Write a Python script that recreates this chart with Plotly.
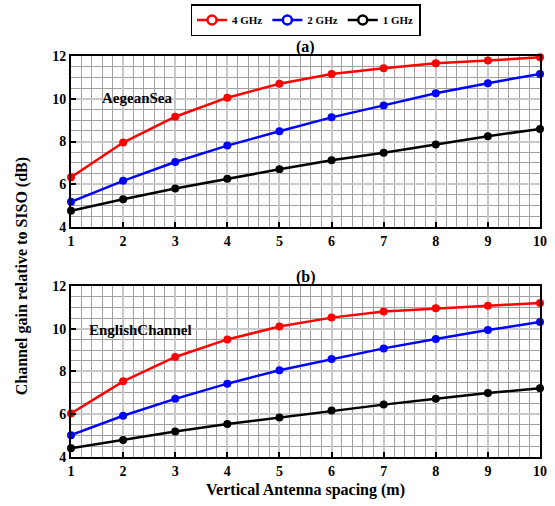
import plotly.graph_objects as go
from plotly.subplots import make_subplots

spacing = [1, 2, 3, 4, 5, 6, 7, 8, 9, 10]
series_names = ["4 GHz", "2 GHz", "1 GHz"]
colors = ["#ff0000", "#0000ff", "#000000"]

aegean_4ghz = [6.33, 7.95, 9.16, 10.05, 10.70, 11.16, 11.43, 11.66, 11.79, 11.94]
aegean_2ghz = [5.18, 6.16, 7.04, 7.81, 8.48, 9.13, 9.69, 10.26, 10.73, 11.16]
aegean_1ghz = [4.76, 5.30, 5.80, 6.26, 6.70, 7.12, 7.47, 7.86, 8.25, 8.59]

english_4ghz = [6.04, 7.54, 8.68, 9.50, 10.10, 10.52, 10.81, 10.96, 11.08, 11.20]
english_2ghz = [5.02, 5.93, 6.72, 7.43, 8.06, 8.58, 9.08, 9.52, 9.94, 10.31]
english_1ghz = [4.41, 4.80, 5.19, 5.54, 5.85, 6.17, 6.45, 6.72, 6.99, 7.22]

panels = [
    ("(a)", "AegeanSea", [aegean_4ghz, aegean_2ghz, aegean_1ghz]),
    ("(b)", "EnglishChannel", [english_4ghz, english_2ghz, english_1ghz]),
]

FONT = "Liberation Serif"

fig = make_subplots(rows=2, cols=1, vertical_spacing=0.147)

for r, (tag, label, data) in enumerate(panels, start=1):
    for name, col, vals in zip(series_names, colors, data):
        fig.add_trace(go.Scatter(
            x=spacing, y=vals, mode="lines+markers", name=name,
            line=dict(color=col, width=2.5),
            marker=dict(color=col, size=8),
            showlegend=False, cliponaxis=False,
        ), row=r, col=1)

# legend entries with open circles
for name, col in zip(series_names, colors):
    fig.add_trace(go.Scatter(
        x=[None], y=[None], mode="lines+markers", name=name,
        line=dict(color=col, width=2.5),
        marker=dict(color="white", size=9, symbol="circle", line=dict(color=col, width=2.5)),
        showlegend=True,
    ), row=1, col=1)

axis_common = dict(
    showline=True, linecolor="black", linewidth=2, mirror=True,
    ticks="inside", ticklen=5, tickwidth=1.5, tickcolor="black",
    showgrid=True, gridcolor="#c8c8c8", gridwidth=2,
    zeroline=False,
    tickfont=dict(family=FONT, size=14, color="black", weight="bold"),
)

for r in (1, 2):
    fig.update_xaxes(range=[1, 10], tickmode="linear", tick0=1, dtick=1,
                     minor=dict(dtick=0.2, showgrid=True, gridcolor="#a0a0a0", gridwidth=1),
                     **axis_common, row=r, col=1)
    fig.update_yaxes(range=[4, 12], tickmode="linear", tick0=4, dtick=2,
                     minor=dict(dtick=0.5, showgrid=True, gridcolor="#a0a0a0", gridwidth=1),
                     **axis_common, row=r, col=1)

fig.update_xaxes(title=dict(text="<b>Vertical Antenna spacing (m)</b>", font=dict(family=FONT, size=16, color="black"), standoff=6), row=2, col=1)

fig.update_layout(
    width=555, height=506,
    margin=dict(l=71, r=8, t=56, b=49),
    plot_bgcolor="white", paper_bgcolor="white",
    font=dict(family=FONT, color="black"),
    legend=dict(
        orientation="h", x=0.5, xanchor="center", y=0.992, yanchor="top",
        yref="container",
        bordercolor="black", borderwidth=1.5, bgcolor="white",
        font=dict(family=FONT, size=11, color="black", weight="bold"),
        tracegroupgap=0,
    ),
    showlegend=True,
)

fig.add_annotation(text="<b>(a)</b>", xref="x domain", yref="y domain", x=0.5, y=1.0, yanchor="bottom",
                   showarrow=False, font=dict(family=FONT, size=16, color="black"), yshift=-2)
fig.add_annotation(text="<b>(b)</b>", xref="x2 domain", yref="y2 domain", x=0.5, y=1.0, yanchor="bottom",
                   showarrow=False, font=dict(family=FONT, size=16, color="black"), yshift=-2)
fig.add_annotation(text="<b>AegeanSea</b>", xref="x", yref="y", x=1.55, y=10.05, xanchor="left",
                   showarrow=False, font=dict(family=FONT, size=15, color="black"))
fig.add_annotation(text="<b>EnglishChannel</b>", xref="x2", yref="y2", x=1.3, y=9.95, xanchor="left",
                   showarrow=False, font=dict(family=FONT, size=15, color="black"))

fig.add_annotation(text="<b>Channel gain relative to SISO (dB)</b>", xref="paper", yref="paper",
                   x=-0.105, y=0.45, textangle=-90, showarrow=False, xanchor="center", yanchor="middle",
                   font=dict(family=FONT, size=16, color="black"))

fig.write_html("out.html")
